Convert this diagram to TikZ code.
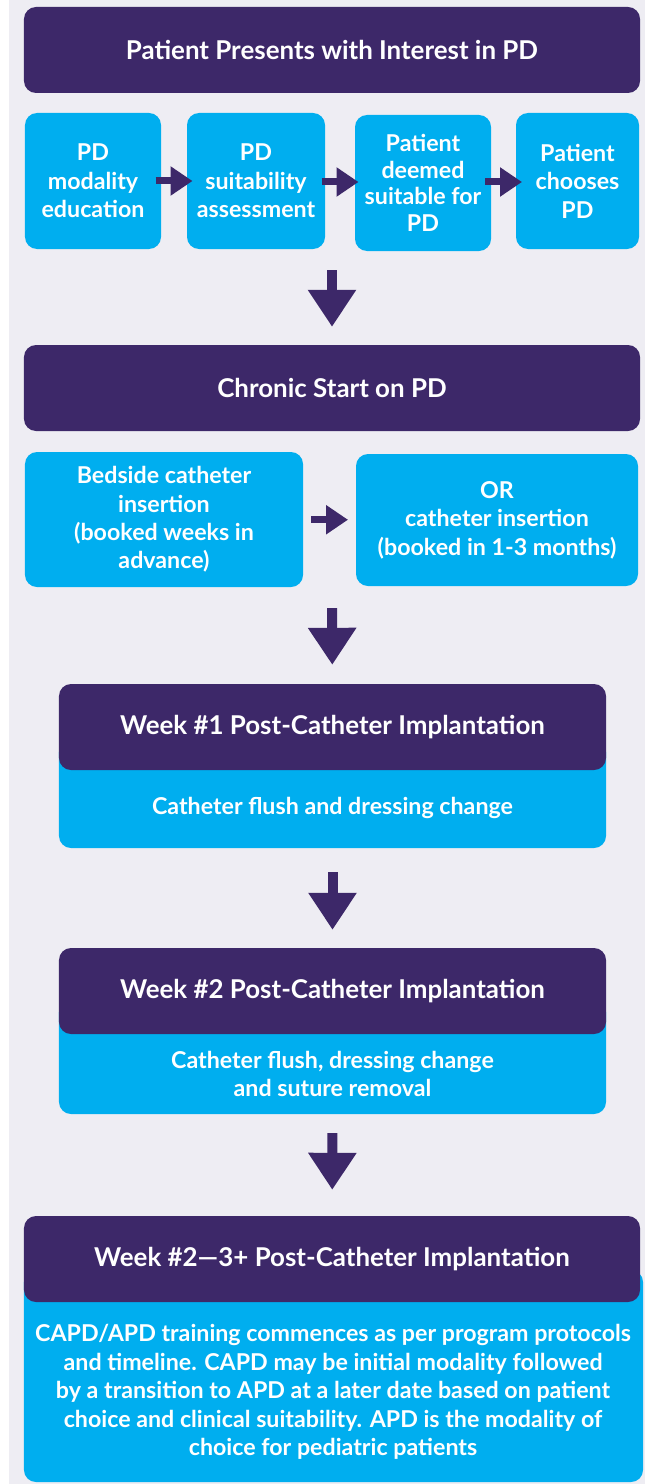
\documentclass[tikz,border=0pt]{standalone}
\usepackage{fontspec}
\setmainfont{Lato}
\usetikzlibrary{arrows.meta,calc}
\definecolor{pdpurple}{RGB}{61,40,105}
\definecolor{pdblue}{RGB}{0,174,239}
\definecolor{pdgray}{RGB}{238,237,243}
\newcommand\midx{332}
\newcommand\stepdown[4]{
    \draw[downarrow, shorten <=#3bp, shorten >=#4bp] (#1) -- (#2);
}
\newcommand\stepside[2]{
    \draw[sidearrow] ($(#1.east)!.5!(#2.west)$) +(-18.5,0) -- +(18.5,0);
}
\tikzset{
    head/.style={fill=pdpurple, text=white, rounded corners=12bp, inner sep=0pt,
        minimum height=86bp, align=center, font=\fontsize{26}{30}\selectfont\bfseries},
    bodybox/.style={fill=pdblue, rounded corners=12bp, inner sep=0pt},
    bodytext/.style={text=white, align=center, inner sep=0pt,
        font=\fontsize{23.3}{28.5}\selectfont\bfseries},
    stepbox/.style={bodybox, bodytext, minimum height=136bp},
    downarrow/.style={pdpurple, line width=10bp, -{Triangle[length=37bp,width=46bp]}},
    sidearrow/.style={pdpurple, line width=7bp, -{Triangle[length=22bp,width=28bp]}}
}

\begin{document}
\begin{tikzpicture}[x=1bp,y=-1bp]
        \useasboundingbox (0,0) rectangle (645,1484);
        \fill[pdgray] (9,0) rectangle (645,1484);
        \node[head, minimum width=616bp] (intro) at (\midx,50) {Patient Presents with Interest in PD};
        \node[stepbox, minimum width=136bp] (edu) at (93,181) {PD\\modality\\education};
        \node[stepbox, minimum width=138bp] (assess) at (256,181) {PD\\suitability\\assessment};
        \node[stepbox, minimum width=136bp, font=\fontsize{23.3}{26.7}\selectfont\bfseries] (suit) at (423,183)
            {Patient\\deemed\\suitable for\\PD};
        \node[stepbox, minimum width=123bp] (choose) at (577.5,181) {Patient\\chooses\\PD};
        \stepside{edu}{assess}
        \stepside{assess}{suit}
        \stepside{suit}{choose}
        \coordinate (row1) at (intro.south |- edu.south);
        \node[head, minimum width=616bp] (chronic) at (\midx,388) {Chronic Start on PD};
        \stepdown{row1}{chronic}{21}{18}
        \node[stepbox, minimum width=278bp, minimum height=135bp] (bedside) at (164,519.5)
            {Bedside catheter\\insertion\\(booked weeks in\\advance)};
        \node[stepbox, minimum width=282bp, minimum height=132bp] (orins) at (497,520)
            {OR\\catheter insertion\\(booked in 1-3 months)};
        \stepside{bedside}{orins}
        \coordinate (row2) at (chronic.south |- bedside.south);
        \node[bodybox, minimum width=547bp, minimum height=108bp] (w1box) at (332.5,794) {};
        \node[head, minimum width=547bp] (w1) at (332.5,727) {Week \#1 Post-Catheter Implantation};
        \node[bodytext] (w1note) at (332.5,808) {Catheter flush and dressing change};
        \stepdown{row2}{w1}{21}{19}
        \node[bodybox, minimum width=547bp, minimum height=114bp] (w2box) at (332.5,1057) {};
        \node[head, minimum width=547bp] (w2) at (332.5,991) {Week \#2 Post-Catheter Implantation};
        \node[bodytext] (w2note) at (332.5,1074) {Catheter flush, dressing change\\and suture removal};
        \stepdown{w1box}{w2}{24}{18}
        \node[bodybox, minimum width=619bp, minimum height=212bp] (w3box) at (333.5,1376) {};
        \node[head, minimum width=616bp] (w3) at (\midx,1259) {Week \#2---3+ Post-Catheter Implantation};
        \node[bodytext] (w3note) at (333,1392)
            {CAPD/APD training commences as per program protocols\\
             and timeline.  CAPD may be initial modality followed\\
             by  a transition to APD at a later date based on patient\\
             choice and clinical suitability.  APD is the modality of\\
             choice for pediatric patients};
        \draw[downarrow, shorten <=19bp, shorten >=26bp] (w2box.south -| w2.south) -- (w3);
        \end{tikzpicture}
\end{document}
